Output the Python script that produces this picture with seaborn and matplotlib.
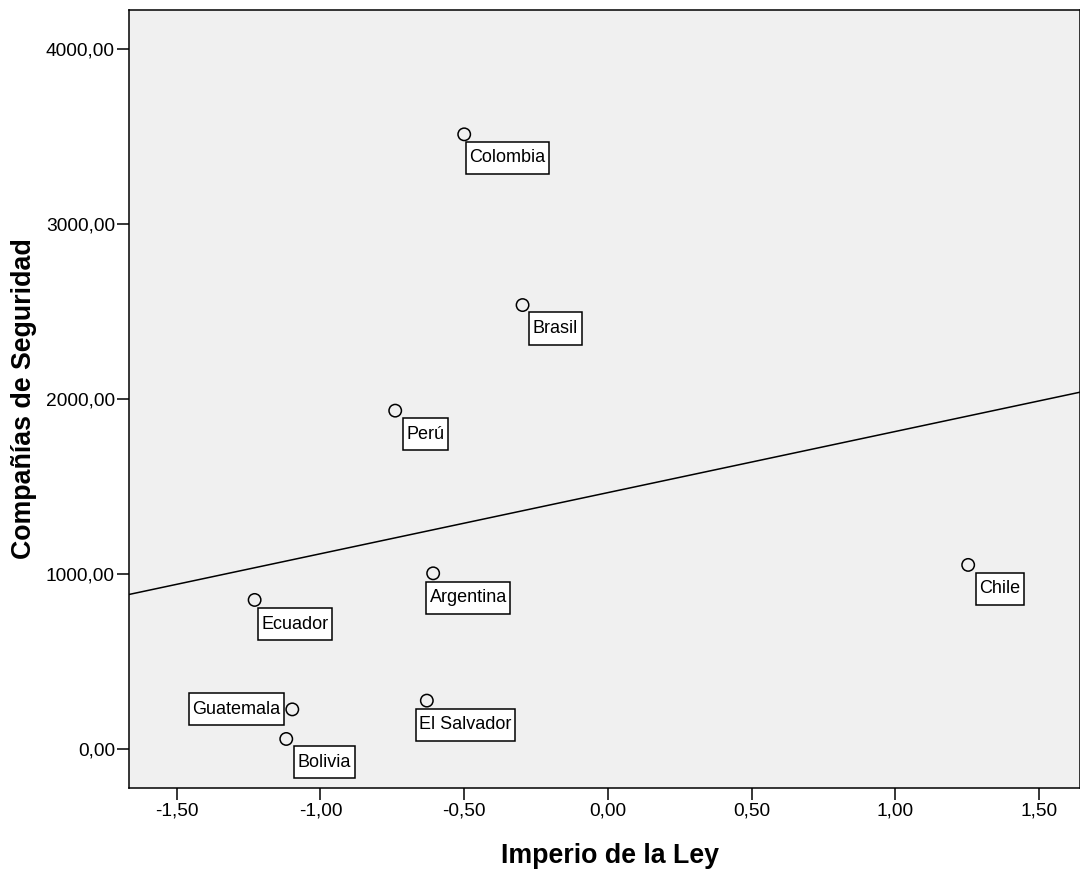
"Scatter of Imperio de la Ley vs Compañías de Seguridad with linear fit, SPSS style"
import matplotlib
matplotlib.use("Agg")
import matplotlib.pyplot as plt
from matplotlib.ticker import FuncFormatter
import pandas as pd
import seaborn as sns

# ------------------------------------------------ DATA ---------------------------------------------------
paises = ["Colombia", "Brasil", "Perú", "Argentina", "Chile",
          "Ecuador", "Guatemala", "Bolivia", "El Salvador"]
imperio_ley = [-0.50, -0.297, -0.74, -0.608, 1.253, -1.229, -1.098, -1.119, -0.63]
companias = [3512, 2537, 1934, 1005, 1053, 853, 228, 59, 278]

x_ticks = [-1.5, -1.0, -0.5, 0.0, 0.5, 1.0, 1.5]
y_ticks = [0, 1000, 2000, 3000, 4000]

# label box placement in pixels (box corner relative to point): dx, dy, ha, va
label_offsets = {
    "Colombia": (1.5, 7.5, "left", "top"),
    "Brasil": (6.6, 7.3, "left", "top"),
    "Perú": (7.7, 7.6, "left", "top"),
    "Argentina": (-7.3, 8.4, "left", "top"),
    "Chile": (7.7, 7.7, "left", "top"),
    "Ecuador": (3.3, 8.0, "left", "top"),
    "Guatemala": (-8.3, 0.0, "right", "center"),
    "Bolivia": (7.7, 7.0, "left", "top"),
    "El Salvador": (-11.3, 8.0, "left", "top"),
}

df = pd.DataFrame({"Pais": paises, "Imperio": imperio_ley, "Companias": companias})

# ------------------------------------------------ PLOT ---------------------------------------------------
sns.set_style("ticks")
plt.rcParams["font.family"] = ["Liberation Sans", "DejaVu Sans"]
plt.rcParams["text.color"] = "black"
plt.rcParams["axes.labelcolor"] = "black"

DPI = 100
fig = plt.figure(figsize=(10.8, 8.73), dpi=DPI)
ax = fig.add_axes([129 / 1080, 1 - 788 / 873, 951 / 1080, 778 / 873])
ax.set_facecolor("#F0F0F0")

ax.set_xlim(-1.666, 1.642)
ax.set_ylim(-221, 4222)

sns.regplot(x="Imperio", y="Companias", data=df, ax=ax, ci=None, truncate=False,
            scatter_kws={"s": 80, "facecolors": "none", "edgecolors": "black",
                         "linewidths": 1.1, "alpha": 1, "zorder": 3},
            line_kws={"color": "black", "lw": 1.1, "zorder": 2})

ax.set_xlim(-1.666, 1.642)
ax.set_ylim(-221, 4222)

fs = 13
pad = 0.2
aspect = 2.1
pad_x = pad * fs * DPI / 72
pad_y = pad_x * aspect
for name, x, y in zip(paises, imperio_ley, companias):
    dx, dy, ha, va = label_offsets[name]
    tx = dx + pad_x if ha == "left" else dx - pad_x
    ty = dy + pad_y if va == "top" else dy
    ax.annotate(name, (x, y), xytext=(tx * 72 / DPI, -ty * 72 / DPI),
                textcoords="offset points", ha=ha, va=va, fontsize=fs, color="black", zorder=4,
                bbox=dict(boxstyle=f"square,pad={pad}", mutation_aspect=aspect,
                          fc="white", ec="black", lw=1.1))

ax.set_xticks(x_ticks)
ax.set_yticks(y_ticks)
fmt = FuncFormatter(lambda v, p: f"{v:.2f}".replace(".", ","))
ax.xaxis.set_major_formatter(fmt)
ax.yaxis.set_major_formatter(fmt)
ax.tick_params(direction="out", length=8.6, width=1.1, labelsize=13.8, pad=1.5, colors="black")

for side in ["left", "bottom", "top", "right"]:
    ax.spines[side].set_color("black")
    ax.spines[side].set_linewidth(1.1)

ax.set_xlabel("Imperio de la Ley", fontsize=19.3, fontweight="bold")
ax.set_ylabel("Compañías de Seguridad", fontsize=19.3, fontweight="bold")
ax.xaxis.set_label_coords(0.506, -0.071)
ax.yaxis.set_label_coords(-0.0967, 0.5)

fig.savefig("out.png", dpi=DPI, facecolor="white")
